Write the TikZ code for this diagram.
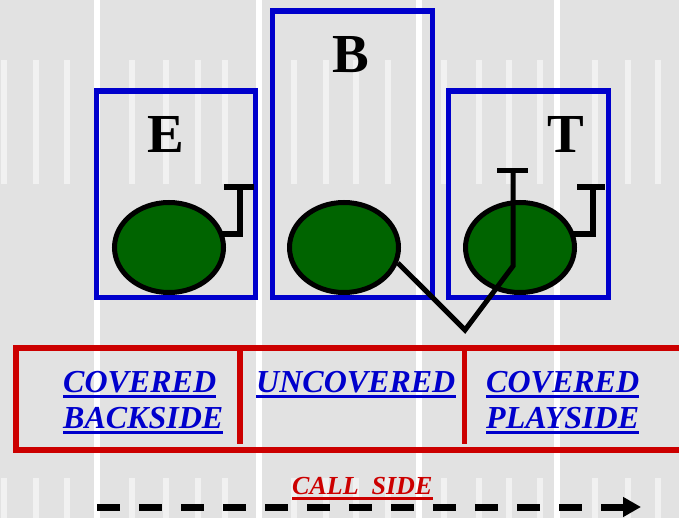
\documentclass[tikz,border=0pt]{standalone}
\usepackage{fontspec}
\setmainfont{Liberation Serif}
\usetikzlibrary{shapes.geometric,arrows.meta}
\definecolor{fieldgray}{HTML}{E2E2E2}
\definecolor{boxblue}{HTML}{0000CC}
\definecolor{zonered}{HTML}{CC0000}
\definecolor{playergreen}{HTML}{006400}
\tikzset{
  player/.style={ellipse, draw=black, line width=5pt, fill=playergreen,
    minimum width=109pt, minimum height=90pt, inner sep=0pt},
  posbox/.style={rectangle, draw=boxblue, line width=5.5pt, inner sep=0pt},
  letter/.style={font=\bfseries\fontsize{55}{55}\selectfont, anchor=base, inner sep=0pt},
  zonelabel/.style={font=\bfseries\itshape\fontsize{32}{32}\selectfont, text=boxblue,
    anchor=base west, inner sep=0pt},
  calllabel/.style={font=\bfseries\itshape\fontsize{26}{26}\selectfont, text=zonered,
    anchor=base west, inner sep=0pt},
  blockline/.style={draw=black, line width=6pt},
  pathline/.style={draw=black, line width=5pt},
  yardline/.style={fill=white},
  hashline/.style={fill=white, opacity=0.55},
}
\newcommand{\ul}[2]{\draw[#2, line width=3.5pt] ([yshift=-4.5pt]#1.base west) -- ([yshift=-4.5pt]#1.base east);}
\begin{document}
\begin{tikzpicture}[x=1pt,y=-1pt]
\useasboundingbox (0,0) rectangle (679,518);
\clip (0,0) rectangle (679,518);
\fill[fieldgray] (0,0) rectangle (679,518);
% hash marks
\foreach \hx in {4,36,67,132,166,198,225,294,326,356,388,444,479,509,540,595,628,658}{
  \fill[hashline] (\hx-3,60) rectangle (\hx+3,184);
  \fill[hashline] (\hx-3,478) rectangle (\hx+3,518);
}
% yard lines
\foreach \yx in {97,259,419,557}{
  \fill[yardline] (\yx-3,0) rectangle (\yx+3,518);
}
% position boxes
\node[posbox, minimum width=159pt, minimum height=206.5pt] (ebox) at (176,194.25) {};
\node[posbox, minimum width=160pt, minimum height=286.5pt] (bbox) at (352.5,154.25) {};
\node[posbox, minimum width=160pt, minimum height=206.5pt] (tbox) at (528.5,194.25) {};
% letters
\node[letter] (eletter) at (165.5,153) {E};
\node[letter] (bletter) at (351,73) {B};
\node[letter] (tletter) at (566,153) {T};
% players
\node[player] (e) at (169,247.5) {};
\node[player] (b) at (344,247.5) {};
\node[player] (t) at (520,247.5) {};
% blocks
\coordinate (eb1) at (240,234.5);
\coordinate (eb2) at (240,187);
\coordinate (ebl) at (224,187);
\coordinate (ebr) at (254,187);
\draw[blockline] (e.east |- eb1) ++(-4,0) -- (eb1) -- (eb2);
\draw[blockline] (ebl) -- (ebr);
\coordinate (tb1) at (593,234.5);
\coordinate (tb2) at (593,187);
\coordinate (tbl) at (577,187);
\coordinate (tbr) at (605,187);
\draw[blockline] (t.east |- tb1) ++(-4,0) -- (tb1) -- (tb2);
\draw[blockline] (tbl) -- (tbr);
% pull path
\coordinate (apex) at (465,330);
\coordinate (tbend) at (513,266);
\coordinate (ttop) at (513,171);
\coordinate (ttl) at (497,171);
\coordinate (ttr) at (528,171);
\draw[pathline] (b.-16) -- (apex) -- (tbend) -- (ttop);
\draw[pathline] (ttl) -- (ttr);
% zone frame
\draw[draw=zonered, line width=5.5pt] (700,348) -- (16,348) -- (16,450) -- (700,450);
\node[inner sep=0pt, minimum size=0pt] (zoneframe) at (358,399) {};
\draw[draw=zonered, line width=5.5pt] (240,348) -- (240,444);
\draw[draw=zonered, line width=5.5pt] (464.5,348) -- (464.5,444);
% zone labels
\node[zonelabel] (l1a) at (63,392) {COVERED};
\node[zonelabel] (l1b) at (63,428) {BACKSIDE};
\node[zonelabel] (l2a) at (256,392) {UNCOVERED};
\node[zonelabel] (l3a) at (486,392) {COVERED};
\node[zonelabel] (l3b) at (486,428) {PLAYSIDE};
\ul{l1a}{boxblue}
\ul{l1b}{boxblue}
\ul{l2a}{boxblue}
\ul{l3a}{boxblue}
\ul{l3b}{boxblue}
% call side
\node[calllabel] (call) at (292,494) {CALL\ \ SIDE};
\ul{call}{zonered}
\coordinate (arrowstart) at (97,507);
\coordinate (arrowend) at (641,507);
\draw[line width=7pt, dash pattern=on 23pt off 19pt,
  -{Triangle[length=18pt,width=19pt]}] (arrowstart) -- (arrowend);
\end{tikzpicture}
\end{document}
